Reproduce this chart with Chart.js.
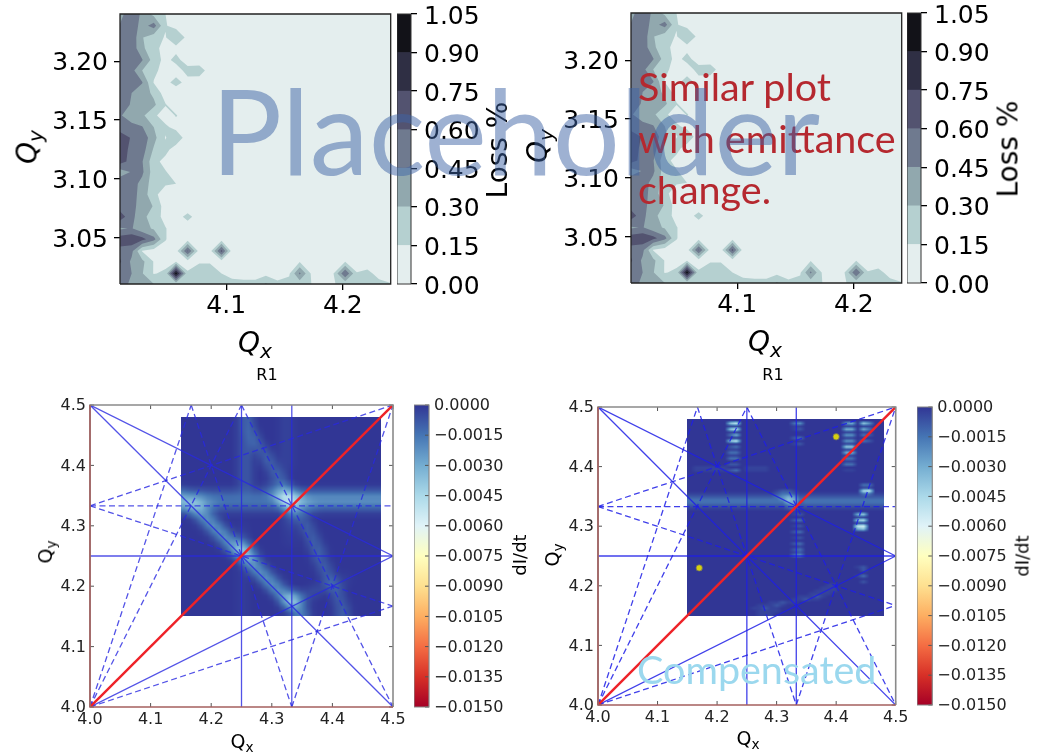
<!DOCTYPE html>
<html>
<head>
<meta charset="utf-8">
<title>Tune scan</title>
<script src="https://cdn.jsdelivr.net/npm/chart.js@4"></script>
<style>
html,body{margin:0;padding:0;background:#fff;}
body{position:relative;width:1038px;height:753px;overflow:hidden;}
canvas{position:absolute;}
canvas.soft{filter:blur(0.5px);}
.lab{position:absolute;font-family:"DejaVu Sans";color:#000;white-space:nowrap;transform:translate(-50%,-50%);}
.lab sub{font-size:72%;vertical-align:-0.3em;line-height:0;}
.note{position:absolute;font-family:Lato;white-space:nowrap;line-height:1;}
</style>
</head>
<body>
<script>
/* loss scan, top row */
const lossX=[4.009,4.019,4.028,4.038,4.048,4.057,4.067,4.077,4.086,4.096,4.105,4.115,4.125,4.134,4.144,4.154,4.163,4.173,4.183,4.192,4.202,4.212,4.221,4.231,4.241];
const lossY=[3.011,3.020,3.030,3.039,3.049,3.058,3.068,3.077,3.087,3.096,3.106,3.115,3.125,3.135,3.144,3.154,3.163,3.173,3.182,3.192,3.201,3.211,3.220,3.230,3.240];
const lossLevels=[0,0.15,0.30,0.45,0.60,0.75,0.90];
const lossTop=1.05;
const lossColors=["#e4eeee","#b5d0d0","#91a8ae","#6f7a8f","#535370","#2f2f44","#121218"];
const lossXTicks=[4.1,4.2];
const lossYTicks=[3.05,3.10,3.15,3.20];
const lossBarTicks=[0,0.15,0.30,0.45,0.60,0.75,0.90,1.05];
// percent, rows from the top of the plot to the bottom
const lossRows=[
[40,55,42,25,15,5,5,5,5,5,5,5,5,5,5,5,5,5,5,5,5,5,5,5,5],
[46,56,38,52,16,10,5,5,5,5,5,5,5,5,5,5,5,5,5,5,5,5,5,5,5],
[52,56,31,20,14,29,10,5,5,5,5,5,5,5,5,5,5,5,5,5,5,5,5,5,5],
[50,55,33,20,9,10,5,5,5,5,5,5,5,5,5,5,5,5,5,5,5,5,5,5,5],
[52,57,46,23,10,20,7,5,5,5,5,5,5,5,5,5,5,5,5,5,5,5,5,5,5],
[52,50,30,19,8,7,21,24,7,5,5,5,5,5,5,5,5,5,5,5,5,5,5,5,5],
[53,56,46,14,10,21,9,5,5,5,5,5,5,5,5,5,5,5,5,5,5,5,5,5,5],
[55,45,37,27,7,5,5,5,5,5,5,5,5,5,5,5,5,5,5,5,5,5,5,5,5],
[50,44,40,33,16,6,5,5,5,5,5,5,5,5,5,5,5,5,5,5,5,5,5,5,5],
[46,40,33,18,7,16,7,5,5,5,5,5,5,5,5,5,5,5,5,5,5,5,5,5,5],
[50,48,46,30,18,10,5,5,5,5,5,5,5,5,5,5,5,5,5,5,5,5,5,5,5],
[72,58,55,35,14,27,6,5,5,5,5,5,5,5,5,5,5,5,5,5,5,5,5,5,5],
[70,55,52,28,20,7,5,5,5,5,5,5,5,5,5,5,5,5,5,5,5,5,5,5,5],
[66,55,46,20,10,5,5,5,5,5,5,5,5,5,5,5,5,5,5,5,5,5,5,5,5],
[38,46,48,22,16,8,5,5,5,5,5,5,5,5,5,5,5,5,5,5,5,5,5,5,5],
[55,52,40,22,17,15,5,5,5,5,5,5,5,5,5,5,5,5,5,5,5,5,5,5,5],
[55,52,38,20,5,5,5,5,5,5,5,5,5,5,5,5,5,5,5,5,5,5,5,5,5],
[53,50,38,29,7,5,5,5,5,5,5,5,5,5,5,5,5,5,5,5,5,5,5,5,5],
[68,50,33,25,8,8,20,7,5,5,5,5,5,5,5,5,5,5,5,5,5,5,5,5,5],
[43,46,36,28,16,5,5,5,5,5,5,5,5,5,5,5,5,5,5,5,5,5,5,5,5],
[68,72,65,50,16,5,8,5,5,8,5,5,5,5,5,5,5,5,5,5,5,5,5,5,5],
[55,49,14,8,8,8,62,8,8,65,8,5,5,5,5,5,5,5,5,5,5,5,5,5,5],
[62,42,34,14,10,14,8,14,14,8,5,5,5,5,5,5,14,5,5,5,14,5,5,5,5],
[50,45,31,14,18,98,17,20,20,15,12,12,12,10,11,13,48,13,8,15,60,16,20,9,5],
[56,40,38,30,20,18,18,20,21,20,18,17,17,32,17,20,20,15,12,14,20,20,20,20,16]
];

/* resonance diagrams, bottom row */
const tuneTicks=[4.0,4.1,4.2,4.3,4.4,4.5];
const rateTicks=[0,-0.0015,-0.003,-0.0045,-0.006,-0.0075,-0.009,-0.0105,-0.012,-0.0135,-0.015];
const heatRange=[4.15,4.48];
const rateLevels=[0,-0.0003,-0.0008,-0.0014,-0.0022,-0.003,-0.0038,-0.0045,-0.005,-0.0056];
// x0,y0,x1,y1 in tune units
const solidLines=[[4.25,4,4.25,4.5],[4.333,4,4.333,4.5],[4,4.25,4.5,4.25],[4,4.5,4.5,4],[4,4.5,4.5,4.25],[4,4,4.5,4.25]];
const dashedLines=[[4,4,4.167,4.5],[4.167,4.5,4.333,4],[4,4,4.25,4.5],[4.25,4.5,4.5,4],[4.333,4,4.5,4.5],[4,4.333,4.5,4.5],[4,4.333,4.5,4.167],[4,4.333,4.5,4.333],[4,4,4.5,4.167]];
const mainLine=[[4,4],[4.5,4.5]];
const workingPoints=[[4.17,4.23],[4.40,4.45]];
// each digit indexes rateLevels, rows from y=4.48 down to y=4.15
const heatLeft=[
"0000000000230000011000000000000000",
"0000000000230000011000000000000000",
"0000000000232000011000000000000000",
"0000000000223000011000000000000000",
"0000000000223200011000000000000000",
"0000000000221310011000000000000000",
"0000000000220131011000000000000000",
"0000000000220032011000000000000000",
"0000000000220013111000000000000000",
"0000000000220002310000000000000000",
"0000000000220001320000000000000000",
"0000000000220011231000000000000000",
"2111111111221123454211111111111111",
"5444333333333334688654444444444444",
"5665443333333333489755444444444444",
"4565332222222222236533322222222222",
"0135310000000000003331000000000000",
"0013531000000000002131000000000000",
"0001353100100000002013100000000000",
"0000135310100000001013100000000000",
"0000013531200000001001310000000000",
"0000001354410000001001310000000000",
"0000000146841000000000231000000000",
"0000000013763100000000131000000000",
"0000000000354100000000131000000000",
"0000000000135310000000013100000000",
"0000000000103531000000013100000000",
"0000000000100353100000001311100000",
"0000000000100035310000002421000000",
"0000000000100003531000221131000000",
"0000000000100000356432100031000000",
"0000000000100000048731000022000000",
"0000000000100000013531000013100000",
"0000000000100000001242000013100000"
];
// same columns, rows every 0.005 from y=4.48 down to y=4.15
const heatRight=[
"0000000000000000000000000000000000",
"0000000680000000003400000004506400",
"0000000110000000001100000001101100",
"0000000680000000001200000005505300",
"0000000110000000000000000001101100",
"0000000350000000000000000004403200",
"0000000000000000002300000001100000",
"0000000680000000000000000004403200",
"0000000000000000001200000001100000",
"0000000230000000000000000006600000",
"0000000110000000000000000001100000",
"0000000330000000000000000005500000",
"0000000110000000000000000001100000",
"0000000330000000000000000003300000",
"0000000000000000000000000001100000",
"0000000220000000000000000003300000",
"0111111000111100000000000000000000",
"0111111230111100000000000001100000",
"0000000000000000000000000000000000",
"0000000000000000000000000000000000",
"0000000000000000000000000000000000",
"0000000000000000000000000000000000",
"0000000000000000000000000000003300",
"0000000000000000000000000000001100",
"0000000000000001221000000000007800",
"1111111111111112332111111111113311",
"2222222222222223454222222222222222",
"3333333333333333465333333333333333",
"3333333333333333355233333333333333",
"2222222222222222234222222222222222",
"1111111111111111123111111111111111",
"0000000000000000001000000000000000",
"0000000000000000001200000000056000",
"0000000000000000000000000000011000",
"0000000000000000002300000000067000",
"0000000000000000000000000000011000",
"0000000000000000001200000000089000",
"0000000000000000000000000000056000",
"0000000000000000002300000000000000",
"0000000000000000000000000000000000",
"0000000000000000001200000000000000",
"0000000000000000000000000000000000",
"0000000000000000002300000000000000",
"0000000000000000000100000000000000",
"0000000000000000002300000000000000",
"0000000000000000001200000000000000",
"0000000000000000003400000000000000",
"0000000000000000000000000000000000",
"0000000000000000000000000000000000",
"0000000000000000000000000000000000",
"0000000000000000000000000000012000",
"0000000000000000000000000000002000",
"0000000000000000000000000000000000",
"0000000000000000000000000000013000",
"0000000000000000000000000000000000",
"0000000000000000000000000000002000",
"0000000000000000000000001100000000",
"0000000000000000000000011100000000",
"0000000000000000000000111100000000",
"0000000000000000000001111000000000",
"0000000000000000000111210000000000",
"0000000000000000001121100000000000",
"0000000000000011211000000000000000",
"0000000000001112100000000000000000",
"0000000000011211000000000000000000",
"0000000000001111000000000000000000",
"0000000000001110000000000000000000"
];
const rdYlBu=[[165,0,38],[215,48,39],[244,109,67],[253,174,97],[254,224,144],[255,255,191],[224,243,248],[171,217,233],[116,173,209],[69,117,180],[49,54,149]];

const fontFamily='"DejaVu Sans"';

function addCanvas(left,top,w,h){
  const c=document.createElement("canvas");
  c.width=w;c.height=h;
  c.style.left=left+"px";c.style.top=top+"px";
  c.style.width=w+"px";c.style.height=h+"px";
  c.className="soft";
  document.body.appendChild(c);
  return c;
}

function addLabel(html,x,y,size,rot,italic){
  const d=document.createElement("div");
  d.className="lab";
  d.innerHTML=html;
  d.style.left=x+"px";d.style.top=y+"px";d.style.fontSize=size+"px";
  if(rot)d.style.transform="translate(-50%,-50%) rotate(-90deg)";
  if(italic)d.style.fontStyle="italic";
  document.body.appendChild(d);
}

function fixedTicks(list){
  return s=>{s.ticks=list.map(v=>({value:v}));};
}

/* fills the contour bands from the grid, through the chart's scales */
const contourPlugin={
  id:"contour",
  beforeDatasetsDraw(chart){
    const ctx=chart.ctx,xs=chart.scales.x,ys=chart.scales.y,a=chart.chartArea;
    const nr=lossRows.length,nc=lossX.length;
    const val=(i,j)=>lossRows[nr-1-j][i]/100;
    ctx.save();
    ctx.beginPath();ctx.rect(a.left,a.top,a.width,a.height);ctx.clip();
    lossLevels.forEach((lo,b)=>{
      ctx.beginPath();
      for(let j=0;j<nr-1;j++){
        for(let i=0;i<nc-1;i++){
          const q=[[lossX[i],lossY[j],val(i,j)],[lossX[i+1],lossY[j],val(i+1,j)],[lossX[i+1],lossY[j+1],val(i+1,j+1)],[lossX[i],lossY[j+1],val(i,j+1)]];
          cellPolys(q,lo).forEach(poly=>{
            poly.forEach((p,n)=>{
              const px=xs.getPixelForValue(p[0]),py=ys.getPixelForValue(p[1]);
              if(n===0)ctx.moveTo(px,py);else ctx.lineTo(px,py);
            });
            if(poly.length)ctx.closePath();
          });
        }
      }
      ctx.fillStyle=lossColors[b];
      ctx.fill();
    });
    ctx.restore();
  }
};

// a saddle cell splits in two corners when its mean is under the level
function cellPolys(q,lo){
  const up=q.map(p=>p[2]>=lo);
  const mean=(q[0][2]+q[1][2]+q[2][2]+q[3][2])/4;
  if(up[0]===up[2]&&up[1]===up[3]&&up[0]!==up[1]&&mean<lo){
    return [clipAbove([q[0],q[1],q[3]],lo),clipAbove([q[2],q[3],q[1]],lo)];
  }
  return [clipAbove(q,lo)];
}

function clipAbove(poly,lo){
  const out=[];
  for(let k=0;k<poly.length;k++){
    const p=poly[k],q=poly[(k+1)%poly.length];
    if(p[2]>=lo)out.push(p);
    if((p[2]>=lo)!==(q[2]>=lo)){
      const t=(lo-p[2])/(q[2]-p[2]);
      out.push([p[0]+(q[0]-p[0])*t,p[1]+(q[1]-p[1])*t,lo]);
    }
  }
  return out;
}

function rateColor(v){
  const t=Math.max(0,Math.min(1,(v+0.015)/0.015))*(rdYlBu.length-1);
  const n=Math.min(rdYlBu.length-2,Math.floor(t)),f=t-n;
  return rdYlBu[n].map((c,i)=>c+(rdYlBu[n+1][i]-c)*f);
}

// the left scan was drawn with a wider interpolation, so soften its grid
function rateGrid(rows,gain){
  const raw=rows.map(r=>[...r].map(d=>rateLevels[Number(d)]));
  if(!gain)return raw;
  const nr=raw.length,nc=raw[0].length,w=[1,2,1];
  return raw.map((row,r)=>row.map((v,c)=>{
    let sum=0;
    for(let a=-1;a<=1;a++){
      for(let b=-1;b<=1;b++){
        sum+=raw[Math.max(0,Math.min(nr-1,r+a))][Math.max(0,Math.min(nc-1,c+b))]*w[a+1]*w[b+1];
      }
    }
    return sum/16*gain;
  }));
}

function heatPlugin(rows,gain){
  return {
    id:"heat",
    beforeDatasetsDraw(chart){
      const ctx=chart.ctx,xs=chart.scales.x,ys=chart.scales.y;
      const x0=xs.getPixelForValue(heatRange[0]),x1=xs.getPixelForValue(heatRange[1]);
      const y0=ys.getPixelForValue(heatRange[1]),y1=ys.getPixelForValue(heatRange[0]);
      const w=Math.round(x1-x0),h=Math.round(y1-y0);
      const off=document.createElement("canvas");
      off.width=w;off.height=h;
      const oc=off.getContext("2d"),img=oc.createImageData(w,h);
      const grid=rateGrid(rows,gain);
      const nr=grid.length,nc=grid[0].length;
      const cell=(c,r)=>grid[Math.max(0,Math.min(nr-1,r))][Math.max(0,Math.min(nc-1,c))];
      for(let py=0;py<h;py++){
        const v=(py+0.5)/h*nr-0.5,r=Math.floor(v),fr=v-r;
        for(let px=0;px<w;px++){
          const u=(px+0.5)/w*nc-0.5,c=Math.floor(u),fc=u-c;
          const val=cell(c,r)*(1-fc)*(1-fr)+cell(c+1,r)*fc*(1-fr)+cell(c,r+1)*(1-fc)*fr+cell(c+1,r+1)*fc*fr;
          const col=rateColor(val),o=(py*w+px)*4;
          img.data[o]=col[0];img.data[o+1]=col[1];img.data[o+2]=col[2];img.data[o+3]=255;
        }
      }
      oc.putImageData(img,0,0);
      ctx.drawImage(off,x0,y0,x1-x0,y1-y0);
    }
  };
}

/* frame and inward ticks of the old style bottom plots */
const framePlugin={
  id:"frame",
  afterDatasetsDraw(chart,args,opts){
    const ctx=chart.ctx,a=chart.chartArea;
    ctx.save();
    if(opts.inward){
      ctx.strokeStyle="#555";ctx.lineWidth=1;
      Object.values(chart.scales).forEach(s=>{
        if(!s.options.display)return;
        s.ticks.forEach(t=>{
          const p=s.getPixelForValue(t.value);
          ctx.beginPath();
          if(s.isHorizontal()){
            ctx.moveTo(p,a.bottom);ctx.lineTo(p,a.bottom-4);
            ctx.moveTo(p,a.top);ctx.lineTo(p,a.top+4);
          }else{
            ctx.moveTo(a.right,p);ctx.lineTo(a.right-4,p);
            if(!opts.bar){ctx.moveTo(a.left,p);ctx.lineTo(a.left+4,p);}
          }
          ctx.stroke();
        });
      });
    }
    ctx.lineWidth=opts.width;
    ctx.strokeStyle=opts.color;
    ctx.beginPath();
    ctx.moveTo(a.left,a.bottom);ctx.lineTo(a.left,a.top);ctx.lineTo(a.right,a.top);ctx.lineTo(a.right,a.bottom);
    if(opts.low){
      ctx.stroke();
      ctx.strokeStyle=opts.low;
      ctx.beginPath();
      ctx.moveTo(a.left,a.top);ctx.lineTo(a.left,a.bottom);ctx.lineTo(a.right,a.bottom);
    }else{
      ctx.lineTo(a.left,a.bottom);
    }
    ctx.stroke();
    ctx.restore();
  }
};

function axisOpts(list,digits,size,fitFn,pad,outward,shift,extra){
  return Object.assign({
    type:"linear",
    afterBuildTicks:fixedTicks(list),
    afterFit:fitFn,
    border:{display:false},
    grid:{display:outward,drawOnChartArea:false,drawTicks:outward,tickLength:6,tickColor:"#000",lineWidth:1.3},
    ticks:{
      autoSkip:false,maxRotation:0,padding:pad,labelOffset:shift,color:outward?"#000":"#222",
      font:{family:fontFamily,size:size},
      callback:v=>Number(v).toFixed(digits).replace("-","\u2212")
    }
  },extra);
}

function lossPlot(ax,ay){
  const aw=270.7,ah=270.3,leftW=110,bottomH=40,top=26;
  const cw=Math.round(leftW+aw+14);
  const cv=addCanvas(ax-leftW,ay-top,cw,Math.round(top+ah+bottomH));
  const points=[];
  lossY.forEach((y,j)=>lossX.forEach((x,i)=>points.push({x:x,y:y})));
  new Chart(cv,{
    type:"scatter",
    data:{datasets:[{label:"Loss %",data:points,pointRadius:0,showLine:false}]},
    plugins:[contourPlugin,framePlugin],
    options:{
      responsive:false,animation:false,
      layout:{padding:{top:top,right:cw-leftW-aw,left:0,bottom:0}},
      plugins:{legend:{display:false},tooltip:{enabled:false},frame:{color:"#222",width:1.3}},
      scales:{
        x:axisOpts(lossXTicks,1,25,s=>{s.height=bottomH;},1,true,0,{min:lossX[0],max:lossX[lossX.length-1]}),
        y:axisOpts(lossYTicks,2,25,s=>{s.width=leftW;},6,true,2,{min:lossY[0],max:lossY[lossY.length-1]})
      }
    }
  });
  // colour bar
  const barW=13.5,rightW=84,bw=barW+rightW;
  const cb=addCanvas(ax+aw+6,ay-top,Math.round(bw),Math.round(top+ah+top));
  new Chart(cb,{
    type:"bar",
    data:{labels:[""],datasets:lossLevels.map((lo,b)=>({data:[(b+1<lossLevels.length?lossLevels[b+1]:lossTop)-lo],backgroundColor:lossColors[b],barPercentage:1,categoryPercentage:1}))},
    plugins:[framePlugin],
    options:{
      responsive:false,animation:false,
      layout:{padding:{top:top,right:0,left:0,bottom:top}},
      plugins:{legend:{display:false},tooltip:{enabled:false},frame:{color:"#333",width:1}},
      scales:{
        x:{display:false,stacked:true},
        y:axisOpts(lossBarTicks,2,25,s=>{s.width=bw-barW;},7,true,3,{position:"right",stacked:true,min:0,max:lossTop})
      }
    }
  });
}

function tunePlot(ax,ay,aw,ah,barX,barW,rows,gain,dots,blue){
  const leftW=60,bottomH=30,top=18,right=20;
  const cw=Math.round(leftW+aw+right),ch=Math.round(top+ah+bottomH);
  const cv=addCanvas(ax-leftW,ay-top,cw,ch);
  const sets=[{label:"main",data:mainLine.map(p=>({x:p[0],y:p[1]})),borderColor:"#ee2228",borderWidth:2.4,pointRadius:0,showLine:true}];
  sets.push({label:"points",data:dots.map(p=>({x:p[0],y:p[1]})),showLine:false,pointRadius:3.2,backgroundColor:"#d6d010",borderColor:"#666",borderWidth:0.8});
  solidLines.forEach(l=>sets.push({data:[{x:l[0],y:l[1]},{x:l[2],y:l[3]}],borderColor:blue,borderWidth:1.3,pointRadius:0,showLine:true}));
  dashedLines.forEach(l=>sets.push({data:[{x:l[0],y:l[1]},{x:l[2],y:l[3]}],borderColor:blue,borderWidth:1.3,borderDash:[6,3.5],pointRadius:0,showLine:true}));
  new Chart(cv,{
    type:"scatter",
    data:{datasets:sets},
    plugins:[heatPlugin(rows,gain),framePlugin],
    options:{
      responsive:false,animation:false,
      layout:{padding:{top:top,right:cw-leftW-aw,left:0,bottom:0}},
      plugins:{legend:{display:false},tooltip:{enabled:false},frame:{color:"#8a8a8a",width:1.6,low:"#a5605f",inward:true}},
      scales:{
        x:axisOpts(tuneTicks,1,16,s=>{s.height=bottomH;},3,false,0,{min:4,max:4.5}),
        y:axisOpts(tuneTicks,1,16,s=>{s.width=leftW;},4,false,1,{min:4,max:4.5})
      }
    }
  });
  // colour bar
  const rightW=84,bw=Math.round(barW+rightW);
  const cb=addCanvas(barX,ay-top,bw,Math.round(top+ah+top));
  new Chart(cb,{
    type:"bar",
    data:{labels:[""],datasets:[{data:[[-0.015,0]],barPercentage:1,categoryPercentage:1,
      backgroundColor(c){
        const a=c.chart.chartArea;
        if(!a)return "#333";
        const g=c.chart.ctx.createLinearGradient(0,a.bottom,0,a.top);
        rdYlBu.forEach((rgb,i)=>g.addColorStop(i/(rdYlBu.length-1),"rgb("+rgb.join(",")+")"));
        return g;
      }}]},
    plugins:[framePlugin],
    options:{
      responsive:false,animation:false,
      layout:{padding:{top:top,right:0,left:0,bottom:top}},
      plugins:{legend:{display:false},tooltip:{enabled:false},frame:{color:"#888",width:1.2,inward:true,bar:true}},
      scales:{
        x:{display:false},
        y:axisOpts(rateTicks,4,16,s=>{s.width=bw-barW;},5,false,1,{position:"right",min:-0.015,max:0})
      }
    }
  });
}

window.onload=function(){
  lossPlot(120,14);
  lossPlot(630.7,12.5);
  tunePlot(90,405,303,302.3,414.3,15,heatLeft,1.15,[],"rgba(40,40,225,0.8)");
  tunePlot(598.3,407.3,297.7,297.7,917,15.3,heatRight,0,workingPoints,"rgba(30,30,230,0.85)");

  addLabel("Q<sub>x</sub>",255,342,28,false,true);
  addLabel("Q<sub>y</sub>",27,147,28,true,true);
  addLabel("Loss %",497,150,28,true);
  addLabel("Q<sub>x</sub>",765,341,28,false,true);
  addLabel("Q<sub>y</sub>",537,146,28,true,true);
  addLabel("Loss %",1008,149,28,true);
  addLabel("R1",267,374,16);
  addLabel("R1",773,374,16);
  addLabel("Q<sub>x</sub>",242,741,19);
  addLabel("Q<sub>y</sub>",45,552,19,true);
  addLabel("Q<sub>x</sub>",748,738,19);
  addLabel("Q<sub>y</sub>",552,555,19,true);
  addLabel("dI/dt",519,555,18,true);
  addLabel("dI/dt",1022,556,18,true);

  const notes=[
    ["Similar plot",638,66,39.5,"#b5282f",1],
    ["with emittance",638,118,39.5,"#b5282f",1],
    ["change.",638,169,39.5,"#b5282f",1],
    ["Compensated",637,649,39.5,"#9bd8ee",1],
    ["Placeholder",211,70,118.5,"#3f64a5",0.5]
  ];
  notes.forEach(n=>{
    const d=document.createElement("div");
    d.className="note";
    d.textContent=n[0];
    d.style.left=n[1]+"px";d.style.top=n[2]+"px";d.style.fontSize=n[3]+"px";d.style.color=n[4];d.style.opacity=n[5];
    document.body.appendChild(d);
  });
};
</script>
</body>
</html>
